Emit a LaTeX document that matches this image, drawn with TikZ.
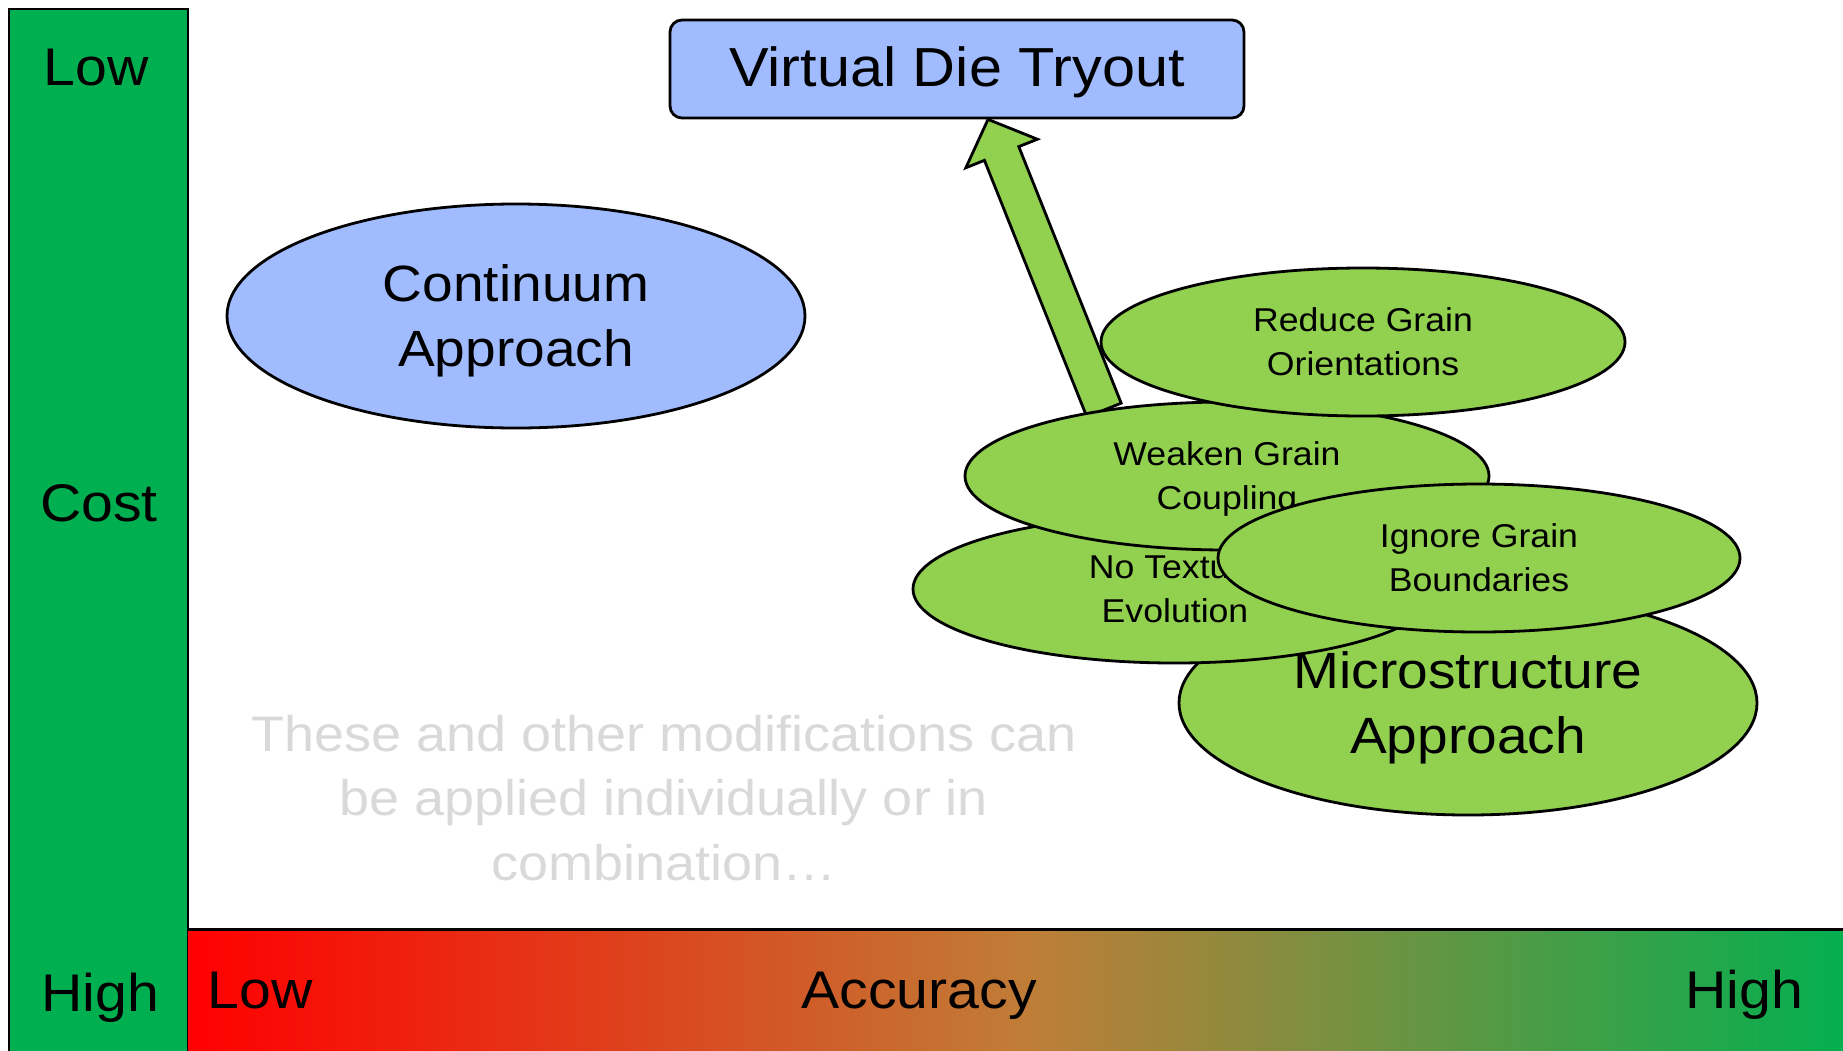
\documentclass[tikz,border=0pt]{standalone}
\usepackage{fontspec}
\setmainfont{Liberation Sans}[FakeStretch=1.08]
\usetikzlibrary{shapes.geometric,calc}

\definecolor{barGreen}{RGB}{0,176,80}
\definecolor{softBlue}{RGB}{160,188,255}
\definecolor{leafGreen}{RGB}{146,208,80}
\definecolor{noteGray}{RGB}{217,217,217}
\definecolor{midBrown}{RGB}{192,125,55}

\pgfdeclarelayer{back}
\pgfsetlayers{back,main}

\newcommand\axisfont{\fontsize{53}{64}\selectfont}
\newcommand\bigfont{\fontsize{51}{65}\selectfont}
\newcommand\smallfont{\fontsize{33}{44}\selectfont}
% invisible strut that lowers the first line of a label a little
\newcommand\lift[1]{\rule{0pt}{#1}}

\begin{document}
\begin{tikzpicture}[x=1pt,y=-1pt,
  outline/.style={draw=black,line width=2.8pt},
  bigoval/.style={outline,ellipse,inner sep=0pt,minimum width=578pt,
    minimum height=224pt,align=center,font=\bigfont},
  smalloval/.style={outline,ellipse,inner sep=0pt,minimum width=524pt,
    minimum height=148pt,align=center,font=\smallfont,fill=leafGreen},
  axislabel/.style={anchor=base,inner sep=0pt,font=\axisfont},
  fatarrow/.style={outline,fill=leafGreen,line join=miter},
]
\useasboundingbox (0,0) rectangle (1843,1050);

% cost axis on the left
\draw[outline,fill=barGreen] (9,9) rectangle (188,1075);
\node[axislabel] (costlow)  at (96,85)   {Low};
\node[axislabel] (cost)     at (99,521)  {Cost};
\node[axislabel] (costhigh) at (100,1011) {High};

% accuracy axis along the bottom
\shade[left color=red,right color=barGreen,middle color=midBrown]
  (188,929) rectangle (1860,1075);
\draw[line width=3pt] (188,929) -- (1860,929);
\node[axislabel] (acclow)  at (260,1008)  {Low};
\node[axislabel] (acc)     at (919,1008)  {Accuracy};
\node[axislabel] (acchigh) at (1744,1008) {High};

% goal
\node[outline,fill=softBlue,rounded corners=12pt,minimum width=574pt,
  minimum height=98pt,inner sep=0pt,font=\fontsize{55}{66}\selectfont]
  (vdt) at (957,69) {\lift{47pt}Virtual Die Tryout};

% approaches
\node[bigoval,fill=softBlue] (cont) at (516,316) {\lift{47pt}Continuum\\Approach};
\node[bigoval,fill=leafGreen] (micro) at (1468,703) {\lift{47pt}Microstructure\\Approach};

% simplifications of the microstructure approach
\node[smalloval] (notex)  at (1175,589) {No Texture\\Evolution};
\node[smalloval] (weaken) at (1227,476) {\lift{30pt}Weaken Grain\\Coupling};
\node[smalloval] (reduce) at (1363,342) {Reduce Grain\\Orientations};
\node[smalloval,minimum width=522pt] (ignore) at (1479,558) {Ignore Grain\\Boundaries};

% block arrow from the simplified model up to the goal
\coordinate (atip)  at ($(vdt.south)+(31,0)$);
\coordinate (abase) at ($(weaken.center)+(-123,-66)$);
\coordinate (ahead) at ($(atip)!36.7pt!(abase)$);
\begin{pgfonlayer}{back}
\draw[fatarrow] (atip)
  -- ($(ahead)!38.5pt!90:(abase)$)
  -- ($(ahead)!18.5pt!90:(abase)$)
  -- ($(abase)!18.5pt!-90:(ahead)$)
  -- ($(abase)!18.5pt!90:(ahead)$)
  -- ($(ahead)!18.5pt!-90:(abase)$)
  -- ($(ahead)!38.5pt!-90:(abase)$)
  -- cycle;
\end{pgfonlayer}

% note
\node[anchor=north,inner sep=0pt,align=center,text=noteGray,
  font=\fontsize{50}{64.5}\selectfont] (note) at (664,715)
  {These and other modifications can\\be applied individually or in\\combination…};
\end{tikzpicture}
\end{document}
